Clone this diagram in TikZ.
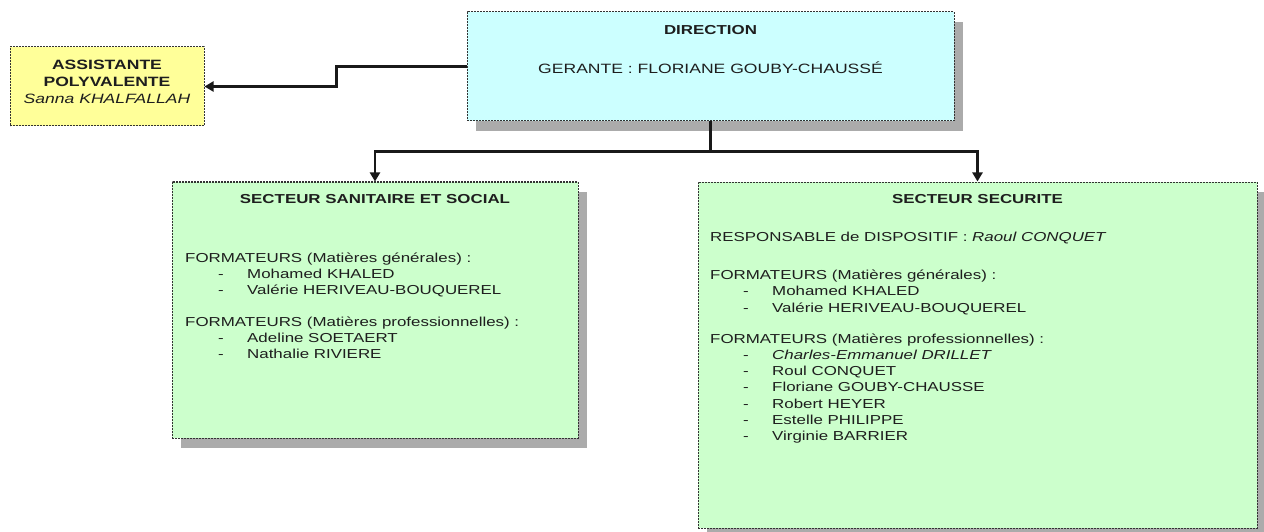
\documentclass[tikz,border=0pt]{standalone}
\usepackage{fontspec}
\setmainfont[FakeStretch=1.3]{Liberation Sans}
\usetikzlibrary{arrows.meta,shadows}
\definecolor{cyanbox}{HTML}{CCFFFF}
\definecolor{greenbox}{HTML}{CCFFCC}
\definecolor{yellowbox}{HTML}{FFFF99}
\definecolor{txt}{HTML}{1E1E1E}
\definecolor{bord}{HTML}{333333}
\definecolor{shad}{HTML}{ABABAB}
\newcommand{\itm}[1]{\makebox[62pt][l]{\hspace*{33pt}-}#1}
\newcommand{\topstrut}{\rule{0pt}{12pt}}
\begin{document}
\begin{tikzpicture}[x=1pt,y=-1pt,
  box/.style={draw=bord, line width=1pt, dash pattern=on 2pt off 1pt, inner sep=0pt},
  shadowed/.style={drop shadow={shadow xshift=9pt, shadow yshift=-10pt, fill=shad, opacity=1}},
  txtnode/.style={inner sep=0pt, text=txt, font=\fontsize{13}{16}\selectfont},
  conn/.style={line width=2.4pt, draw=black!90},
  arr/.style={conn, -{Triangle[width=10pt,length=9pt]}}]
\useasboundingbox (0,0) rectangle (1264,532);
\fill[white] (0,0) rectangle (1264,532);

% boxes
\node[box, shadowed, fill=cyanbox, minimum width=487pt, minimum height=109pt] (dir) at (710.5,66.5) {};
\node[box, fill=yellowbox, minimum width=194pt, minimum height=79pt] (asst) at (107,86.5) {};
\node[box, shadowed, fill=greenbox, minimum width=406pt, minimum height=256pt] (left) at (375,310) {};
\node[box, shadowed, fill=greenbox, minimum width=559pt, minimum height=346pt] (right) at (977.5,355) {};

% direction texts
\node[txtnode, anchor=base, font=\fontsize{13}{16}\selectfont\bfseries] (dirt) at (710.5,35) {DIRECTION};
\node[txtnode, anchor=base, font=\fontsize{13.5}{16}\selectfont] (dirg) at (710.5,74) {GERANTE : FLORIANE GOUBY-CHAUSSÉ};

% assistant texts
\node[txtnode, anchor=north, align=center, font=\fontsize{13.5}{17}\selectfont] (asstt) at (107,57)
  {\topstrut\textbf{ASSISTANTE}\\\textbf{POLYVALENTE}\\\textit{Sanna KHALFALLAH}};

% left box texts
\node[txtnode, anchor=base, font=\fontsize{13}{16}\selectfont\bfseries] (leftt) at (375,203) {SECTEUR SANITAIRE ET SOCIAL};
\node[txtnode, anchor=north west, align=left] (leftb) at (185,250.5)
  {\topstrut FORMATEURS (Matières générales) :\\
   \itm{Mohamed KHALED}\\
   \itm{Valérie HERIVEAU-BOUQUEREL}\\[16pt]
   FORMATEURS (Matières professionnelles) :\\
   \itm{Adeline SOETAERT}\\
   \itm{Nathalie RIVIERE}};

% right box texts
\node[txtnode, anchor=base, font=\fontsize{13}{16}\selectfont\bfseries] (rightt) at (977.5,203) {SECTEUR SECURITE};
\node[txtnode, anchor=north west, align=left, font=\fontsize{13}{16.2}\selectfont] (rightb) at (710,229.5)
  {\topstrut RESPONSABLE de DISPOSITIF : \textit{Raoul CONQUET}\\[21.8pt]
   FORMATEURS (Matières générales) :\\
   \itm{Mohamed KHALED}\\
   \itm{Valérie HERIVEAU-BOUQUEREL}\\[15pt]
   FORMATEURS (Matières professionnelles) :\\
   \itm{\textit{Charles-Emmanuel DRILLET}}\\
   \itm{Roul CONQUET}\\
   \itm{Floriane GOUBY-CHAUSSE}\\
   \itm{Robert HEYER}\\
   \itm{Estelle PHILIPPE}\\
   \itm{Virginie BARRIER}};

% connectors
\draw[arr] (dir.west) -- ++(-130,0) |- (asst.east);
\draw[conn] (dir.south) -- ++(0,30) coordinate (jn);
\draw[arr] (jn) -| (left.north);
\draw[arr] (jn) -| (right.north);
\end{tikzpicture}
\end{document}
